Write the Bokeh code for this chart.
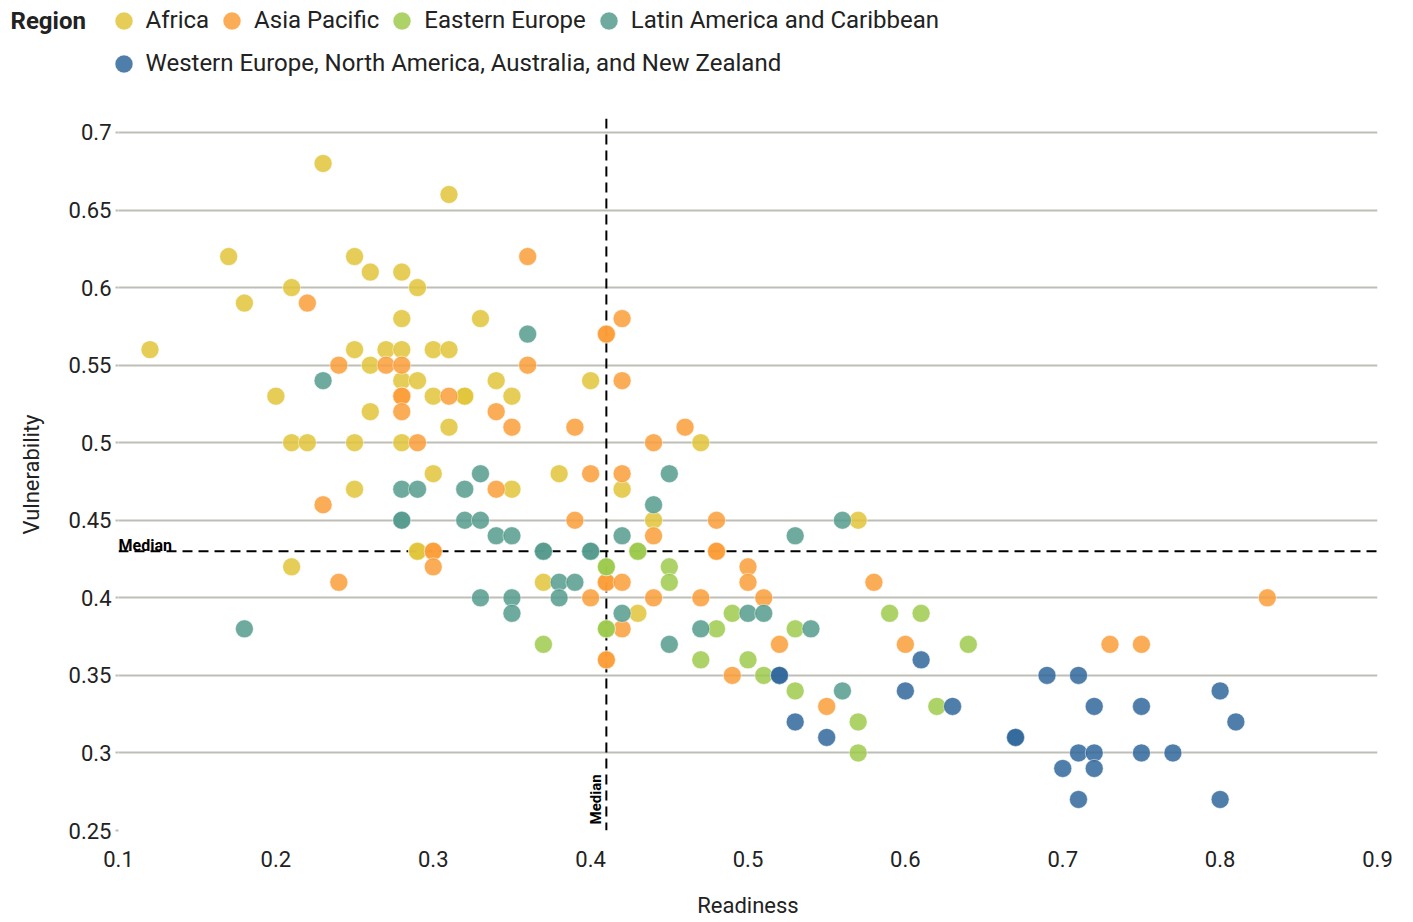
from bokeh.plotting import figure
from bokeh.models import (ColumnDataSource, Range1d, FixedTicker, NumeralTickFormatter,
                          Span, Label, Legend, LegendItem)
from bokeh.embed import file_html
from bokeh.resources import INLINE

# ---------------- data ----------------
regions = ["Africa", "Asia Pacific", "Eastern Europe", "Latin America and Caribbean",
           "Western Europe, North America, Australia, and New Zealand"]
region_colors = ["#E0C43A", "#FA9D38", "#9DCA4E", "#559B8D", "#31679B"]

africa_x = [0.12, 0.17, 0.18, 0.23, 0.21, 0.20, 0.21, 0.22, 0.21, 0.25, 0.26, 0.25, 0.26, 0.26,
            0.25, 0.25, 0.27, 0.28, 0.28, 0.28, 0.28, 0.28, 0.29, 0.29, 0.29, 0.29, 0.30, 0.31,
            0.30, 0.32, 0.32, 0.30, 0.31, 0.31, 0.33, 0.34, 0.35, 0.35, 0.38, 0.37, 0.40, 0.42,
            0.44, 0.47, 0.43, 0.57]
africa_y = [0.56, 0.62, 0.59, 0.68, 0.60, 0.53, 0.50, 0.50, 0.42, 0.62, 0.61, 0.56, 0.55, 0.52,
            0.50, 0.47, 0.56, 0.61, 0.58, 0.56, 0.54, 0.50, 0.60, 0.54, 0.43, 0.43, 0.56, 0.56,
            0.53, 0.53, 0.53, 0.48, 0.51, 0.66, 0.58, 0.54, 0.53, 0.47, 0.48, 0.41, 0.54, 0.47,
            0.45, 0.50, 0.39, 0.45]

asia_x = [0.22, 0.24, 0.27, 0.28, 0.28, 0.28, 0.31, 0.28, 0.29, 0.23, 0.30, 0.30, 0.30, 0.24,
          0.36, 0.36, 0.34, 0.35, 0.39, 0.34, 0.41, 0.41, 0.42, 0.42, 0.46, 0.44, 0.40, 0.42,
          0.39, 0.44, 0.48, 0.48, 0.48, 0.41, 0.41, 0.42, 0.40, 0.44, 0.47, 0.42, 0.41, 0.41,
          0.50, 0.50, 0.58, 0.51, 0.52, 0.60, 0.49, 0.55, 0.73, 0.75, 0.83]
asia_y = [0.59, 0.55, 0.55, 0.55, 0.53, 0.53, 0.53, 0.52, 0.50, 0.46, 0.43, 0.43, 0.42, 0.41,
          0.62, 0.55, 0.52, 0.51, 0.51, 0.47, 0.57, 0.57, 0.58, 0.54, 0.51, 0.50, 0.48, 0.48,
          0.45, 0.44, 0.45, 0.43, 0.43, 0.41, 0.41, 0.41, 0.40, 0.40, 0.40, 0.38, 0.36, 0.36,
          0.42, 0.41, 0.41, 0.40, 0.37, 0.37, 0.35, 0.33, 0.37, 0.37, 0.40]

eastern_x = [0.43, 0.43, 0.41, 0.41, 0.45, 0.45, 0.41, 0.41, 0.48, 0.37, 0.47, 0.49, 0.59, 0.61,
             0.53, 0.64, 0.50, 0.51, 0.53, 0.62, 0.57, 0.57]
eastern_y = [0.43, 0.43, 0.42, 0.42, 0.42, 0.41, 0.38, 0.38, 0.38, 0.37, 0.36, 0.39, 0.39, 0.39,
             0.38, 0.37, 0.36, 0.35, 0.34, 0.33, 0.32, 0.30]

latin_x = [0.23, 0.18, 0.36, 0.33, 0.45, 0.28, 0.29, 0.32, 0.44, 0.28, 0.28, 0.32, 0.33, 0.34,
           0.35, 0.42, 0.37, 0.37, 0.40, 0.40, 0.38, 0.39, 0.33, 0.35, 0.38, 0.35, 0.42, 0.47,
           0.45, 0.56, 0.53, 0.50, 0.51, 0.54, 0.56]
latin_y = [0.54, 0.38, 0.57, 0.48, 0.48, 0.47, 0.47, 0.47, 0.46, 0.45, 0.45, 0.45, 0.45, 0.44,
           0.44, 0.44, 0.43, 0.43, 0.43, 0.43, 0.41, 0.41, 0.40, 0.40, 0.40, 0.39, 0.39, 0.38,
           0.37, 0.45, 0.44, 0.39, 0.39, 0.38, 0.34]

western_x = [0.61, 0.52, 0.52, 0.60, 0.63, 0.53, 0.55, 0.67, 0.67, 0.69, 0.71, 0.80, 0.72, 0.75,
             0.81, 0.71, 0.72, 0.75, 0.77, 0.70, 0.72, 0.71, 0.80]
western_y = [0.36, 0.35, 0.35, 0.34, 0.33, 0.32, 0.31, 0.31, 0.31, 0.35, 0.35, 0.34, 0.33, 0.33,
             0.32, 0.30, 0.30, 0.30, 0.30, 0.29, 0.29, 0.27, 0.27]

median_readiness = 0.41
median_vulnerability = 0.43

x_ticks = [0.1, 0.2, 0.3, 0.4, 0.5, 0.6, 0.7, 0.8, 0.9]
y_ticks = [0.25, 0.3, 0.35, 0.4, 0.45, 0.5, 0.55, 0.6, 0.65, 0.7]

series_x = [africa_x, asia_x, eastern_x, latin_x, western_x]
series_y = [africa_y, asia_y, eastern_y, latin_y, western_y]

# ---------------- styling ----------------
FONT = "Roboto"
GRID = "#BEBEB6"
TEXT = "#222222"
W = 1405
LEG_H = 88
POINT_STYLE = dict(size=18, fill_alpha=0.85, line_color="white", line_alpha=0.5, line_width=1)

sources = [ColumnDataSource(data=dict(x=xs, y=ys)) for xs, ys in zip(series_x, series_y)]

# ---------------- main chart ----------------
p = figure(width=W, height=832, output_backend="svg", toolbar_location=None,
           x_range=Range1d(0.1, 0.9), y_range=Range1d(0.25, 0.709),
           min_border_left=118, min_border_right=28, min_border_top=30, min_border_bottom=89)
p.outline_line_color = None
p.background_fill_color = "white"
p.border_fill_color = "white"

p.xgrid.grid_line_color = None
p.ygrid.grid_line_color = GRID
p.ygrid.grid_line_width = 2

p.xaxis.ticker = FixedTicker(ticks=x_ticks)
p.yaxis.ticker = FixedTicker(ticks=y_ticks)
p.xaxis.formatter = NumeralTickFormatter(format="0.[0]")
p.yaxis.formatter = NumeralTickFormatter(format="0.[00]")

for ax in (p.xaxis, p.yaxis):
    ax.axis_line_color = None
    ax.minor_tick_line_color = None
    ax.major_label_text_font = FONT
    ax.major_label_text_font_size = "22px"
    ax.major_label_text_color = TEXT
    ax.axis_label_text_font = FONT
    ax.axis_label_text_font_size = "22px"
    ax.axis_label_text_font_style = "normal"
    ax.axis_label_text_color = TEXT

p.xaxis.major_tick_line_color = None
p.xaxis.major_label_standoff = 14
p.xaxis.axis_label = "Readiness"
p.xaxis.axis_label_standoff = 23

p.yaxis.major_tick_line_color = GRID
p.yaxis.major_tick_line_width = 2
p.yaxis.major_tick_out = 3
p.yaxis.major_tick_in = 0
p.yaxis.major_label_standoff = 4
p.yaxis.axis_label = "Vulnerability"
p.yaxis.axis_label_standoff = 22

# median lines
p.add_layout(Span(location=median_vulnerability, dimension="width", line_color="black",
                  line_width=2, line_dash="10 6", level="underlay"))
p.add_layout(Span(location=median_readiness, dimension="height", line_color="black",
                  line_width=2, line_dash="10 6", level="underlay"))

for color, src in zip(region_colors, sources):
    p.scatter("x", "y", source=src, fill_color=color, **POINT_STYLE)

p.add_layout(Label(x=median_readiness, y=0.25, x_offset=-10, y_offset=6, text="Median",
                   angle=1.5707963, text_align="left", text_baseline="alphabetic",
                   text_font=FONT, text_font_size="15px", text_font_style="bold",
                   text_color="black"))
p.add_layout(Label(x=0.1, y=median_vulnerability, x_offset=0, y_offset=6, text="Median",
                   text_align="left", text_baseline="alphabetic",
                   text_font=FONT, text_font_size="16px", text_font_style="bold",
                   text_color="black"))

# ---------------- legend strip (separate root, full-width frame) ----------------
leg = figure(width=W, height=LEG_H, output_backend="svg", toolbar_location=None,
             x_range=Range1d(0, 1), y_range=Range1d(0, 1),
             x_axis_location=None, y_axis_location=None,
             min_border_left=0, min_border_right=0, min_border_top=0, min_border_bottom=0)
leg.outline_line_color = None
leg.xgrid.grid_line_color = None
leg.ygrid.grid_line_color = None

leg_renderers = []
for color, src in zip(region_colors, sources):
    leg_renderers.append(leg.scatter("x", "y", source=src, fill_color=color, visible=False,
                                     **POINT_STYLE))

leg.add_layout(Label(x=10, y=LEG_H - 20, x_units="screen", y_units="screen", text="Region",
                     text_align="left", text_baseline="middle", text_font=FONT,
                     text_font_size="24px", text_font_style="bold", text_color=TEXT))


def make_legend(items, vx, vy):
    return Legend(items=items, location=(vx, vy), orientation="horizontal",
                  glyph_width=45, glyph_height=45, label_standoff=0, spacing=0,
                  padding=0, margin=0, border_line_color=None, background_fill_alpha=0,
                  inactive_fill_alpha=0,
                  label_text_font=FONT, label_text_font_size="24px", label_text_color=TEXT)


legend_a = make_legend([LegendItem(label=regions[i], renderers=[leg_renderers[i]])
                        for i in range(4)], 100.5, LEG_H + 2.5 - 45)
legend_b = make_legend([LegendItem(label=regions[4], renderers=[leg_renderers[4]])],
                       100.5, LEG_H - 40.5 - 45)
leg.add_layout(legend_a, "center")
leg.add_layout(legend_b, "center")

open("out.html", "w").write(file_html([leg, p], INLINE))
